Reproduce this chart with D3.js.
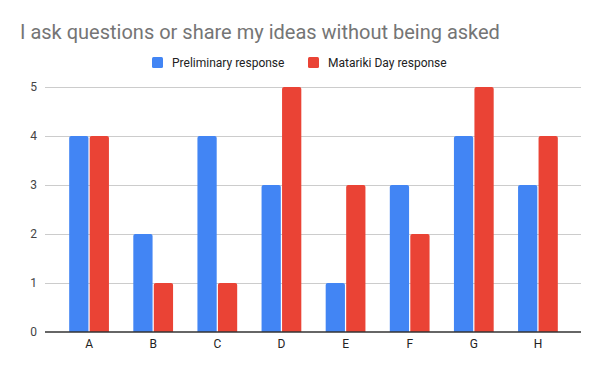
<!DOCTYPE html>
<html><head><meta charset="utf-8">
<script src="https://cdn.jsdelivr.net/npm/d3@7"></script>
<style>body{margin:0;background:#fff;}svg{display:block;font-family:Roboto,Arial,sans-serif;}</style>
</head><body>
<svg id="c" width="600" height="371"></svg>
<script>
const categories = ["A","B","C","D","E","F","G","H"];
const seriesNames = ["Preliminary response","Matariki Day response"];
const preliminary = [4,2,4,3,1,3,4,3];
const matariki = [4,1,1,5,3,2,5,4];
const yTicks = [0,1,2,3,4,5];
const colors = ["#4285f4","#ea4335"];

const svg = d3.select("#c");
const gridL = 45, gridR = 581;
const y = d3.scaleLinear().domain([0,5]).range([332,87]);
const x = d3.scaleBand().domain(categories).range([57,570]).paddingInner(0.38).paddingOuter(0.19);
const xs = d3.scaleBand().domain([0,1]).range([0,x.bandwidth()]).paddingInner(0.06);

svg.append("rect").attr("width",600).attr("height",371).attr("fill","#fff");
svg.append("text").attr("x",20).attr("y",38.5).attr("font-size",20).attr("fill","#757575")
  .text("I ask questions or share my ideas without being asked");

// legend
const lg = svg.append("g").attr("font-size",12).attr("fill","#222");
const legX = [152,308];
seriesNames.forEach((n,i)=>{
  lg.append("rect").attr("x",legX[i]).attr("y",57).attr("width",11).attr("height",11).attr("rx",1.5).attr("fill",colors[i]);
  lg.append("text").attr("x",legX[i]+20).attr("y",67).text(n);
});

// grid
svg.append("g").selectAll("line").data(yTicks.filter(d=>d>0)).join("line")
  .attr("x1",gridL).attr("x2",gridR).attr("y1",d=>y(d)).attr("y2",d=>y(d))
  .attr("stroke","#cccccc").attr("stroke-width",1).attr("shape-rendering","crispEdges");

// y axis labels
const ya = d3.axisLeft(y).tickValues(yTicks).tickFormat(d3.format("d")).tickSize(0).tickPadding(0);
const yg = svg.append("g").attr("transform",`translate(${gridL-8},0)`).call(ya);
yg.select(".domain").remove();
yg.selectAll("text").attr("font-size",12).attr("fill","#444").attr("font-family","Roboto,Arial,sans-serif");

// bars
const data = [preliminary, matariki];
function barPath(x0,w,yt,yb,r){
  r=Math.min(r,(yb-yt)/2,w/2);
  return `M${x0},${yb}V${yt+r}Q${x0},${yt} ${x0+r},${yt}H${x0+w-r}Q${x0+w},${yt} ${x0+w},${yt+r}V${yb}Z`;
}
data.forEach((vals,si)=>{
  svg.append("g").selectAll("path").data(categories).join("path")
    .attr("fill",colors[si])
    .attr("d",(c,i)=>barPath(x(c)+xs(si), xs.bandwidth(), y(vals[i]), y(0), 2));
});

// baseline
svg.append("line").attr("x1",gridL).attr("x2",gridR).attr("y1",y(0)).attr("y2",y(0))
  .attr("stroke","#333").attr("stroke-width",1.5);

// x axis labels
const xa = d3.axisBottom(x).tickSize(0).tickPadding(0);
const xg = svg.append("g").attr("transform",`translate(0,${y(0)+7})`).call(xa);
xg.select(".domain").remove();
xg.selectAll("text").attr("font-size",12).attr("fill","#222").attr("font-family","Roboto,Arial,sans-serif").attr("dy","0.71em");
</script>
</body></html>
